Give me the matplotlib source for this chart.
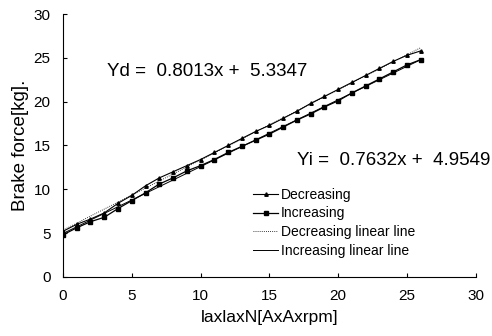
import numpy as np
import matplotlib.pyplot as plt

# ********** Data *********************
x_vals = list(range(0, 27))
decreasing = [5.2, 6.0, 6.6, 7.3, 8.4, 9.3, 10.4, 11.3, 12.0, 12.7, 13.4,
              14.2, 15.0, 15.8, 16.6, 17.3, 18.1, 18.9, 19.8, 20.6, 21.4,
              22.2, 23.0, 23.8, 24.6, 25.3, 25.8]
increasing = [4.8, 5.6, 6.3, 6.8, 7.8, 8.7, 9.6, 10.6, 11.3, 12.1, 12.7,
              13.4, 14.2, 14.9, 15.6, 16.3, 17.1, 17.9, 18.6, 19.4, 20.1,
              21.0, 21.8, 22.6, 23.4, 24.2, 24.8]
dec_coef = (0.8013, 5.3347)
inc_coef = (0.7632, 4.9549)
x_ticks = [0, 5, 10, 15, 20, 25, 30]
y_ticks = [0, 5, 10, 15, 20, 25, 30]
# *************************************

plt.rcParams['font.family'] = ['Liberation Sans', 'DejaVu Sans']


def main():
    fig = plt.figure(figsize=(4.92, 3.36), dpi=100)
    ax = fig.add_axes([0.128, 0.176, 0.839, 0.782])

    x = np.array(x_vals, dtype=float)
    ax.plot(x, decreasing, color='black', lw=0.8, marker='^', ms=2.5,
            label='Decreasing')
    ax.plot(x, increasing, color='black', lw=0.9, marker='s', ms=3.5,
            label='Increasing')
    ax.plot(x, dec_coef[0] * x + dec_coef[1], color='black', lw=0.6,
            ls=(0, (1, 1.5)), label='Decreasing linear line')
    ax.plot(x, inc_coef[0] * x + inc_coef[1], color='black', lw=0.7,
            label='Increasing linear line')

    ax.text(3.2, 23.4, 'Yd =  %.4fx +  %.4f' % dec_coef, fontsize=13.5,
            va='center')
    ax.text(17.0, 13.3, 'Yi =  %.4fx +  %.4f' % inc_coef, fontsize=13.5,
            va='center')

    ax.set_xlim(0, 30)
    ax.set_ylim(0, 30)
    ax.set_xticks(x_ticks)
    ax.set_yticks(y_ticks)
    ax.tick_params(direction='in', length=3, labelsize=11, pad=9)
    for side in ['top', 'right']:
        ax.spines[side].set_visible(False)

    ax.set_xlabel('laxlaxN[AxAxrpm]', fontsize=12.5, labelpad=5)
    ax.set_ylabel('Brake force[kg].', fontsize=13.5, labelpad=3)

    ax.legend(loc='lower right', bbox_to_anchor=(0.867, 0.05), frameon=False,
              prop={'family': ['Liberation Sans Narrow', 'Liberation Sans'],
                    'size': 10},
              handlelength=1.8, handletextpad=0.2,
              labelspacing=0.35, borderaxespad=0)

    fig.savefig('out.png', dpi=100)


if __name__ == '__main__':
    main()
